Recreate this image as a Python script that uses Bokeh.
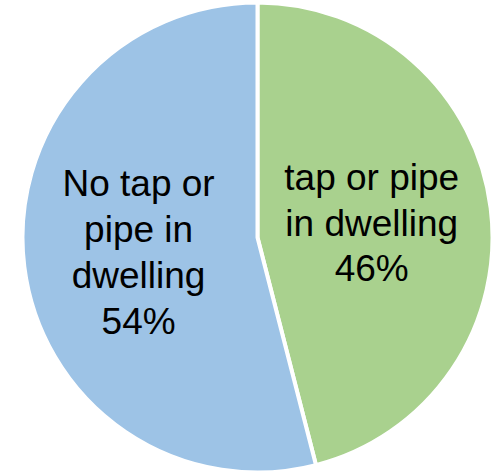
import math
import numpy as np
from bokeh.plotting import figure
from bokeh.models import ColumnDataSource, Range1d
from bokeh.core.properties import value
from bokeh.embed import file_html
from bokeh.resources import INLINE

categories = ["tap or pipe\nin dwelling", "No tap or\npipe in\ndwelling"]
shares = [46, 54]
colors = ["#A9D18E", "#9DC3E6"]

W, H = 492, 472
cx, cy, R = 257, H - 237, 235

frac = np.array(shares) / sum(shares)
ends = np.cumsum(frac)
starts = ends - frac
start_angle = math.pi / 2 - 2 * math.pi * starts
end_angle = math.pi / 2 - 2 * math.pi * ends
mid = (start_angle + end_angle) / 2
label_r = [0.49 * R, 0.51 * R]
lx = [cx + r * math.cos(a) for r, a in zip(label_r, mid)]
ly = [cy + r * math.sin(a) for r, a in zip(label_r, mid)]
texts = [f"{c}\n{s}%" for c, s in zip(categories, shares)]

src = ColumnDataSource(dict(start=start_angle, end=end_angle, color=colors,
                            lx=lx, ly=ly, text=texts))

p = figure(width=W, height=H, output_backend="svg", toolbar_location=None,
           x_range=Range1d(0, W), y_range=Range1d(0, H), min_border=0)
p.axis.visible = False
p.grid.visible = False
p.outline_line_color = None
p.background_fill_color = "white"

p.wedge(x=cx, y=cy, radius=R, start_angle="start", end_angle="end",
        direction="clock", fill_color="color", line_color="white",
        line_width=4, source=src)
p.text(x="lx", y="ly", text="text", source=src, text_align="center",
       text_baseline="middle", text_font=value("Liberation Sans"),
       text_font_size="37px", text_line_height=1.12, text_color="black")

open("out.html", "w").write(file_html(p, INLINE))
